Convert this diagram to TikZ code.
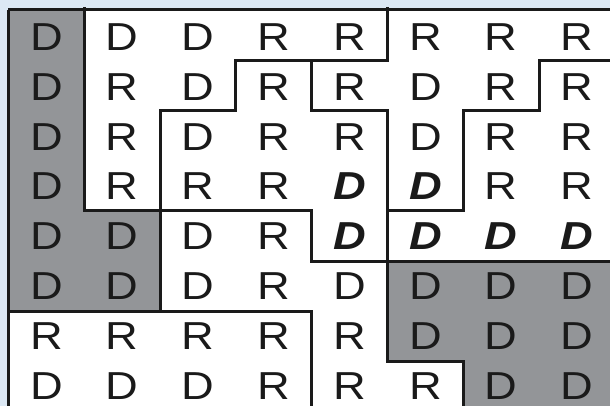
\documentclass[tikz,border=0pt]{standalone}
\usepackage{fontspec}
\setmainfont{Liberation Sans}
\usepackage{xcolor}
\usepackage{tikz}
\usetikzlibrary{positioning}
\definecolor{PageBlue}{HTML}{DCE8F4}
\definecolor{CellGray}{HTML}{939598}
\definecolor{Ink}{HTML}{1A1A1A}
\tikzset{
  lt/.style={
    font=\fontsize{39}{39}\selectfont,
    text=Ink,
    xscale=1.16,
    inner sep=0pt
  },
  bd/.style={lt, font=\fontsize{39}{39}\selectfont\bfseries\itshape},
  fence/.style={draw=Ink, line width=3pt},
  shade/.style={fill=CellGray}
}

\begin{document}
\begin{tikzpicture}[x=75.8pt, y=-50.2pt]
  % page and grid
  \fill[PageBlue] (-0.112,-0.199) rectangle (7.935,7.888);
  \useasboundingbox (-0.112,-0.199) rectangle (7.935,7.888);
  \fill[white] (0,0) rectangle (8.3,8.3);

  % gray blocks
  \path[shade] (0,0) rectangle (1,6) (1,4) rectangle (2,6);
  \path[shade] (5,5) -- (8.3,5) -- (8.3,8.3) -- (6,8.3) -- (6,7) -- (5,7) -- cycle;

  % letters
  \foreach \line [count=\r] in {%
    {D/lt,D/lt,D/lt,R/lt,R/lt,R/lt,R/lt,R/lt},%
    {D/lt,R/lt,D/lt,R/lt,R/lt,D/lt,R/lt,R/lt},%
    {D/lt,R/lt,D/lt,R/lt,R/lt,D/lt,R/lt,R/lt},%
    {D/lt,R/lt,R/lt,R/lt,D/bd,D/bd,R/lt,R/lt},%
    {D/lt,D/lt,D/lt,R/lt,D/bd,D/bd,D/bd,D/bd},%
    {D/lt,D/lt,D/lt,R/lt,D/lt,D/lt,D/lt,D/lt},%
    {R/lt,R/lt,R/lt,R/lt,R/lt,D/lt,D/lt,D/lt},%
    {D/lt,D/lt,D/lt,R/lt,R/lt,R/lt,D/lt,D/lt}%
  }{
    \foreach \ch/\sty [count=\c] in \line
      \node[\sty] (l\r-\c) at (\c-0.5,0.995*\r-0.463) {\ch};
  }

  % borders
  \draw[fence] (0,0) -- (8.3,0);
  \draw[fence] (0,0) -- (0,8.3);
  \draw[fence] (1,-0.05) -- (1,4) -- (4,4) -- (4,5) -- (8.3,5);
  \draw[fence] (5,-0.05) -- (5,1) -- (3,1) -- (3,2) -- (2,2) -- (2,6.04);
  \draw[fence] (0,6) -- (4,6) -- (4,8.3);
  \draw[fence] (4,1) -- (4,2) -- (5,2) -- (5,7) -- (6,7) -- (6,8.3);
  \draw[fence] (5,4) -- (6,4) -- (6,2) -- (7,2) -- (7,1) -- (8.3,1);
\end{tikzpicture}
\end{document}
